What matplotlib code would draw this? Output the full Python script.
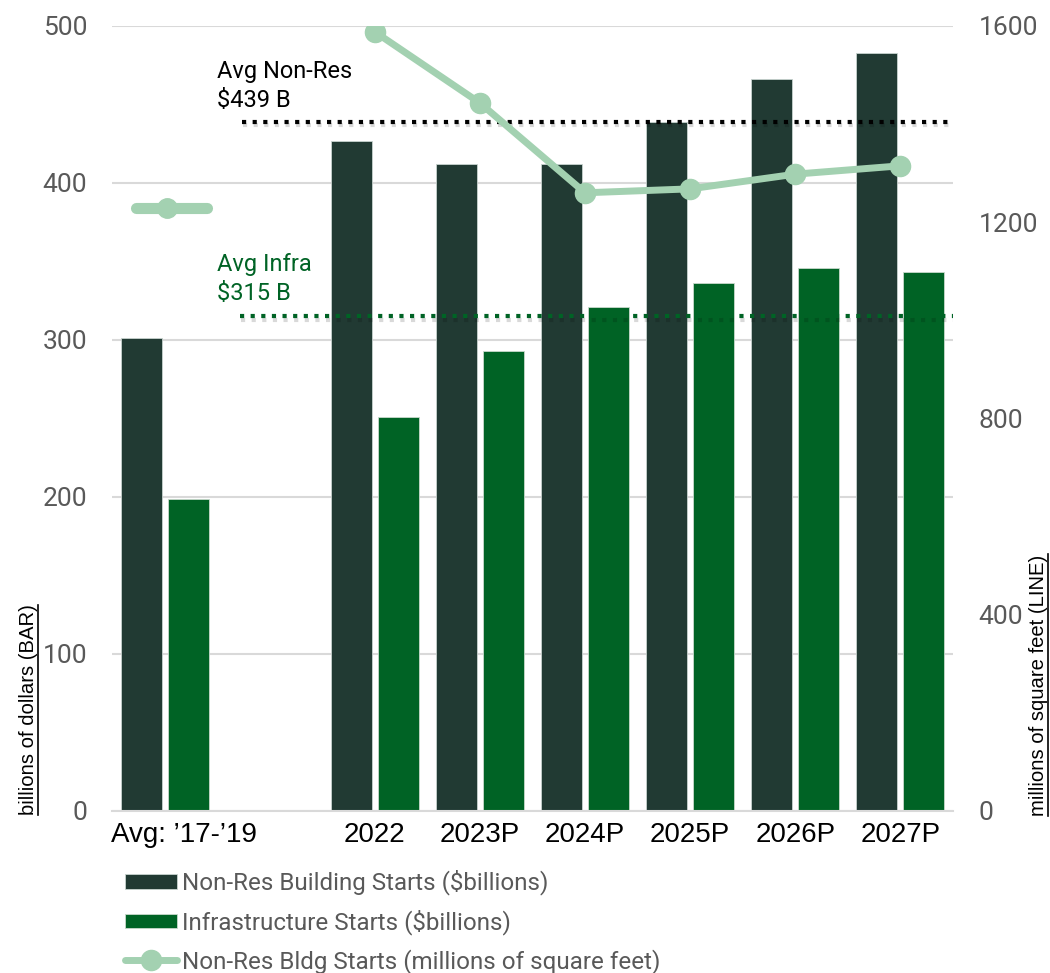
import matplotlib
matplotlib.use("Agg")
import matplotlib.pyplot as plt
import matplotlib.patheffects as pe
from matplotlib.lines import Line2D
import numpy as np

plt.rcParams['font.family'] = ['Roboto', 'DejaVu Sans']
ARIAL = ['Liberation Sans', 'DejaVu Sans']

# categories and slot positions (one empty slot after the 2017-19 average)
categories = ["Avg: \u201917-\u201919", "2022", "2023P", "2024P", "2025P", "2026P", "2027P"]
slots = [0, 2, 3, 4, 5, 6, 7]

nonres_bldg = [301, 427, 412, 412, 439, 466, 483]      # $ billions
infra = [199, 251, 293, 321, 336, 346, 343]            # $ billions
sqft_avg = 1228                                         # millions sq ft, 2017-19 avg
sqft = [1588, 1443, 1260, 1268, 1298, 1315]             # millions sq ft, 2022-2027P

avg_nonres = 439
avg_infra = 315

c_dark = "#213a33"
c_green = "#006325"
c_line = "#a3d1b1"
c_grid = "#d9d9d9"
c_tick = "#595959"

fig = plt.figure(figsize=(10.5, 9.73), dpi=100)
ax = fig.add_axes([0.1067, 0.1665, 0.8009, 0.8068])
ax2 = ax.twinx()

w = 0.39
off = 0.224
x = np.array(slots, dtype=float)
b1 = ax.bar(x - off, nonres_bldg, width=w, color=c_dark, edgecolor="#c8d3cf", linewidth=0.6,
            label="Non-Res Building Starts ($billions)", zorder=2)
b2 = ax.bar(x + off, infra, width=w, color=c_green, edgecolor="#c8d9cc", linewidth=0.6,
            label="Infrastructure Starts ($billions)", zorder=2)

ax.set_xlim(-0.5, 7.5)
ax.set_ylim(0, 500)
ax.set_yticks(np.arange(0, 501, 100))
ax.yaxis.grid(True, color=c_grid, linewidth=1.5, zorder=0)
ax.set_axisbelow(True)
for s in ax.spines.values():
    s.set_visible(False)
ax.spines['bottom'].set_visible(True)
ax.spines['bottom'].set_color(c_grid)
ax.spines['bottom'].set_linewidth(1.5)
ax.tick_params(axis='y', length=0, pad=18, labelsize=19, labelcolor=c_tick)

# category labels; the first one sits a little right of its group
ax.set_xticks(slots)
ax.set_xticklabels([""] + categories[1:], family=ARIAL)
ax.tick_params(axis='x', length=0, pad=8, labelsize=20, labelcolor="black")
ax.annotate(categories[0], xy=(slots[0], 0), xycoords=("data", "axes fraction"),
            xytext=(14, -8), textcoords="offset points", ha="center", va="top",
            fontsize=20, family=ARIAL, color="black")

# average reference lines
shadow = [pe.SimpleLineShadow(offset=(0.5, -2.5), alpha=0.15, shadow_color="black"), pe.Normal()]
ax.hlines(avg_nonres, 0.74, 7.5, colors="black", linewidth=3, linestyles=(0, (1, 1.55)),
          path_effects=shadow, zorder=4)
ax.hlines(avg_infra, 0.72, 7.5, colors=c_green, linewidth=3, linestyles=(0, (1, 1.55)),
          path_effects=shadow, zorder=4)
ax.text(0.5, avg_nonres + 6, "Avg Non-Res\n$%d B" % avg_nonres, fontsize=17, color="black",
        ha="left", va="bottom", linespacing=1.35, zorder=5)
ax.text(0.5, avg_infra + 7, "Avg Infra\n$%d B" % avg_infra, fontsize=17, color=c_green,
        ha="left", va="bottom", linespacing=1.35, zorder=5)

# square footage line on the right axis
ax2.set_ylim(0, 1600)
ax2.set_yticks(np.arange(0, 1601, 400))
for s in ax2.spines.values():
    s.set_visible(False)
ax2.tick_params(axis='y', length=0, pad=18.5, labelsize=19, labelcolor=c_tick)
ln, = ax2.plot(x[1:], sqft, color=c_line, linewidth=5, marker="o", markersize=14.5,
               solid_capstyle="round", label="Non-Res Bldg Starts (millions of square feet)", zorder=6)
ax2.plot([-0.276, 0.40], [sqft_avg, sqft_avg], color=c_line, linewidth=8,
         solid_capstyle="round", zorder=6)
ax2.plot([0.024], [sqft_avg], color=c_line, marker="o", markersize=14, zorder=6)

# underlined axis titles
yl = fig.text(0.027, 1 - 710 / 973, "billions of dollars (BAR)", rotation=90,
              fontsize=14.6, family=ARIAL, ha="center", va="center")
yr = fig.text(0.989, 1 - 685 / 973, "millions of square feet (LINE)", rotation=90,
              fontsize=14.6, family=ARIAL, ha="center", va="center")

leg = fig.legend(handles=[b1, b2, ln], loc="upper left", bbox_to_anchor=(0.119, 0.106),
                 frameon=False, fontsize=17.4, handlelength=2.15, handleheight=0.54,
                 handletextpad=0.2, labelspacing=0.58, borderaxespad=0, borderpad=0)
for t in leg.get_texts():
    t.set_color(c_tick)

fig.canvas.draw()
rend = fig.canvas.get_renderer()
for t in (yl, yr):
    bb = t.get_window_extent(rend).transformed(fig.transFigure.inverted())
    ux = bb.x1 + 0.0005
    fig.add_artist(Line2D([ux, ux], [bb.y0, bb.y1], transform=fig.transFigure,
                          color="black", linewidth=1.2))

fig.savefig("out.png", dpi=100)
